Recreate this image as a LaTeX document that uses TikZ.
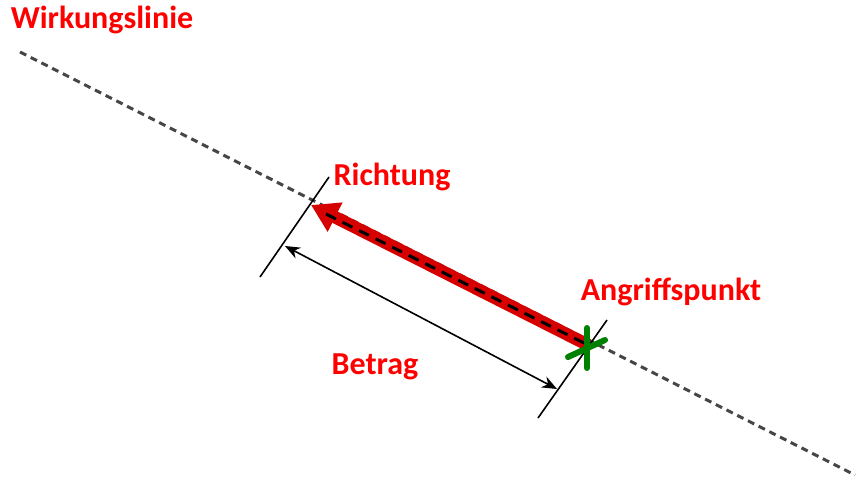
\documentclass[tikz,border=0pt]{standalone}
\usepackage{fontspec}
\setmainfont{Carlito}
\usetikzlibrary{arrows.meta}
\definecolor{lbl}{RGB}{255,0,0}
\definecolor{arr}{RGB}{215,0,0}
\definecolor{grn}{RGB}{0,128,0}
\definecolor{wl}{RGB}{70,70,70}
\tikzset{
  lab/.style={text=lbl, font=\fontsize{32}{36}\selectfont\bfseries, inner sep=0pt},
  wirk/.style={draw=wl, line width=3pt, dash pattern=on 7pt off 5pt},
  force/.style={draw=arr, line width=12.5pt, -{Triangle[length=27pt,width=31pt]}},
  inner/.style={draw=black, line width=3pt, dash pattern=on 11pt off 7.5pt},
  tick/.style={draw=black, line width=1.6pt},
  dim/.style={draw=black, line width=1.6pt, {Stealth[length=15pt,width=12pt]}-{Stealth[length=15pt,width=12pt]}},
  cross/.style={draw=grn, line width=6pt, line cap=round}
}
\begin{document}
\begin{tikzpicture}[x=1pt,y=-1pt]
\useasboundingbox (0,0) rectangle (858,495);
\coordinate (W1) at (20,52);
\coordinate (W2) at (855,475);
\coordinate (A) at (588,345);
\coordinate (T) at (311,205);
\coordinate (D1) at (322,212);
\coordinate (D2) at (584,343);
\coordinate (L1) at (329,177);
\coordinate (L2) at (260,277);
\coordinate (R1) at (607,320);
\coordinate (R2) at (538,418);
\coordinate (M1) at (285,246);
\coordinate (M2) at (557,389);
\coordinate (C1) at (587,328);
\coordinate (C2) at (587,368);
\coordinate (C3) at (568,357);
\coordinate (C4) at (605,340);
\draw[wirk] (W1) -- (W2);
\draw[force] (A) -- (T);
\draw[inner] (D2) -- (D1);
\draw[tick] (L1) -- (L2);
\draw[tick] (R1) -- (R2);
\draw[dim] (M1) -- (M2);
\draw[cross] (C1) -- (C2);
\draw[cross] (C3) -- (C4);
\node[lab] (wlabel) at (102,20) {Wirkungslinie};
\node[lab] (rlabel) at (392,177) {Richtung};
\node[lab] (alabel) at (671,292) {Angriffspunkt};
\node[lab] (blabel) at (375,367) {Betrag};
\end{tikzpicture}
\end{document}
